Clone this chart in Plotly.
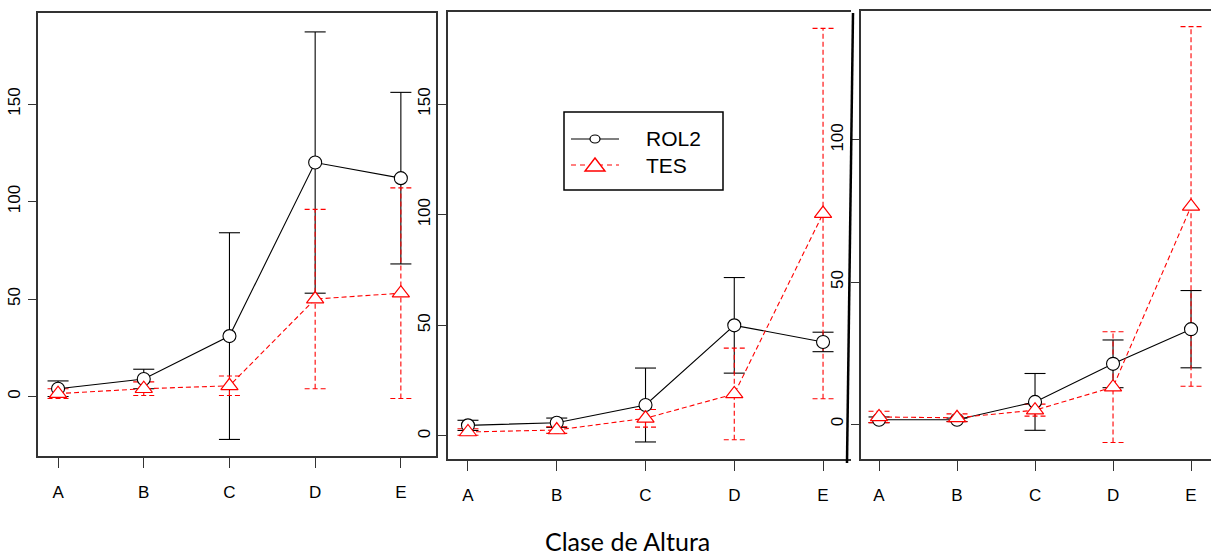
import plotly.graph_objects as go

W, H = 1211, 556

categories = ["A", "B", "C", "D", "E"]
y_ticks_1 = [0, 50, 100, 150]
y_ticks_2 = [0, 50, 100, 150]
y_ticks_3 = [0, 50, 100]

# Panel 1
rol2_mean_1 = [4, 9, 31, 120, 112]
rol2_sd_1 = [4, 5, 53, 67, 44]
tes_mean_1 = [1.5, 4, 5.5, 50, 53]
tes_sd_1 = [2.5, 3.5, 5, 46, 54]

# Panel 2
rol2_mean_2 = [4.8, 6, 14, 50, 42.5]
rol2_sd_2 = [2.3, 2.1, 16.7, 21.6, 4.4]
tes_mean_2 = [1.8, 2.7, 8, 19, 100.5]
tes_sd_2 = [1.5, 1.5, 4, 20.7, 83.7]

# Panel 3
rol2_mean_3 = [1.5, 1.5, 7.8, 21.2, 33.4]
rol2_sd_3 = [1, 0.6, 10, 8.4, 13.6]
tes_mean_3 = [2.5, 2.2, 4.9, 13, 76.6]
tes_sd_3 = [2, 1.4, 2.1, 19.5, 63.3]

legend_names = ["ROL2", "TES"]
x_title = "Clase de Altura"

panels = [
    dict(rm=rol2_mean_1, rs=rol2_sd_1, tm=tes_mean_1, ts=tes_sd_1, yt=y_ticks_1,
         xdom=[38 / W, 436 / W], ydom=[1 - 456 / H, 1 - 13 / H],
         xr=[-0.234, 4.41], yr=[-30.5, 196.7], ppu=85.5, box=True),
    dict(rm=rol2_mean_2, rs=rol2_sd_2, tm=tes_mean_2, ts=tes_sd_2, yt=y_ticks_2,
         xdom=[448 / W, 851 / W], ydom=[1 - 459 / H, 1 - 12 / H],
         xr=[-0.225, 4.315], yr=[-10.4, 191.6], ppu=88.75, box=False),
    dict(rm=rol2_mean_3, rs=rol2_sd_3, tm=tes_mean_3, ts=tes_sd_3, yt=y_ticks_3,
         xdom=[861 / W, 1.0], ydom=[1 - 459 / H, 1 - 11 / H],
         xr=[-0.231, 4.256], yr=[-12.3, 145.4], ppu=78.0, box=False),
]

tick_font = dict(family="Liberation Sans Narrow, Arial Narrow, Liberation Sans, sans-serif",
                 size=17, color="black")
axcol = "#333333"

fig = go.Figure()
xidx = list(range(len(categories)))


def errsegs(means, sds, half):
    xs, ys = [], []
    for i, (m, s) in enumerate(zip(means, sds)):
        lo, hi = m - s, m + s
        xs += [i, i, None, i - half, i + half, None, i - half, i + half, None]
        ys += [lo, hi, None, lo, lo, None, hi, hi, None]
    return xs, ys


layout_axes = {}
for k, p in enumerate(panels, start=1):
    xa = "x" if k == 1 else f"x{k}"
    ya = "y" if k == 1 else f"y{k}"
    half = 10.5 / p["ppu"]
    ex, ey = errsegs(p["rm"], p["rs"], half)
    fig.add_trace(go.Scatter(x=ex, y=ey, mode="lines", xaxis=xa, yaxis=ya,
                             line=dict(color="black", width=1.1), showlegend=False,
                             hoverinfo="skip"))
    ex, ey = errsegs(p["tm"], p["ts"], half)
    fig.add_trace(go.Scatter(x=ex, y=ey, mode="lines", xaxis=xa, yaxis=ya,
                             line=dict(color="red", width=1.1, dash="5px,3px"),
                             showlegend=False, hoverinfo="skip"))
    fig.add_trace(go.Scatter(x=xidx, y=p["rm"], mode="lines+markers", name=legend_names[0],
                             xaxis=xa, yaxis=ya, showlegend=False,
                             line=dict(color="black", width=1.1),
                             marker=dict(symbol="circle", size=13, color="white",
                                         line=dict(color="black", width=1.1))))
    fig.add_trace(go.Scatter(x=xidx, y=p["tm"], mode="lines+markers", name=legend_names[1],
                             xaxis=xa, yaxis=ya, showlegend=False,
                             line=dict(color="red", width=1.1, dash="5px,3px"),
                             marker=dict(symbol="triangle-up", size=15, color="white",
                                         line=dict(color="red", width=1.2))))
    xkey = "xaxis" if k == 1 else f"xaxis{k}"
    ykey = "yaxis" if k == 1 else f"yaxis{k}"
    layout_axes[xkey] = dict(domain=p["xdom"], range=p["xr"], anchor=ya,
                             tickvals=xidx, ticktext=categories, tickfont=tick_font,
                             showgrid=False, zeroline=False, showline=True,
                             linecolor=axcol, linewidth=1.5, mirror=True,
                             ticks="outside", ticklen=10, tickcolor=axcol, tickwidth=1,
                             ticklabelstandoff=10)
    layout_axes[ykey] = dict(domain=p["ydom"], range=p["yr"], anchor=xa,
                             tickvals=p["yt"], tickfont=tick_font, tickangle=-90,
                             showgrid=False, zeroline=False, showline=True,
                             linecolor=axcol, linewidth=1.5, mirror=p["box"],
                             ticks="outside", ticklen=8, tickcolor=axcol, tickwidth=1,
                             ticklabelstandoff=1)

shapes = []
shapes.append(dict(type="line", xref="paper", yref="paper",
                   x0=853 / W, y0=1 - 13 / H, x1=847 / W, y1=1 - 463 / H,
                   line=dict(color="black", width=2.5)))
lx0, lx1, ly0, ly1 = 564, 723, 112, 190
shapes.append(dict(type="rect", xref="paper", yref="paper",
                   x0=lx0 / W, x1=lx1 / W, y0=1 - ly1 / H, y1=1 - ly0 / H,
                   line=dict(color="black", width=1.5), fillcolor="white"))
r1, r2 = 139, 165
shapes.append(dict(type="line", xref="paper", yref="paper",
                   x0=571 / W, x1=619 / W, y0=1 - r1 / H, y1=1 - r1 / H,
                   line=dict(color="black", width=1.2)))
shapes.append(dict(type="circle", xref="paper", yref="paper",
                   x0=590 / W, x1=600 / W, y0=1 - (r1 + 4) / H, y1=1 - (r1 - 4) / H,
                   line=dict(color="black", width=1.2), fillcolor="white"))
shapes.append(dict(type="line", xref="paper", yref="paper",
                   x0=571 / W, x1=619 / W, y0=1 - r2 / H, y1=1 - r2 / H,
                   line=dict(color="red", width=1.2, dash="5px,4px")))
tri = [(585, r2 + 6), (605, r2 + 6), (595, r2 - 7)]
path = "M {} {} L {} {} L {} {} Z".format(*[v for (px, py) in tri for v in (px / W, 1 - py / H)])
shapes.append(dict(type="path", xref="paper", yref="paper", path=path,
                   line=dict(color="red", width=1.4), fillcolor="white"))

annotations = [
    dict(text="<br>".join(legend_names), x=645 / W, y=1 - (r1 + r2) / 2 / H,
         xref="paper", yref="paper", align="left",
         xanchor="left", yanchor="middle", showarrow=False, borderpad=0,
         font=dict(family="Liberation Sans, Arial, sans-serif", size=21, color="black")),
    dict(text=x_title, x=627 / W, y=1 - 541 / H, xref="paper", yref="paper",
         xanchor="center", yanchor="middle", showarrow=False,
         font=dict(family="Lato, Open Sans, sans-serif", size=25, color="black")),
]

fig.update_layout(width=W, height=H, margin=dict(l=0, r=0, t=0, b=0),
                  paper_bgcolor="white", plot_bgcolor="white", showlegend=False,
                  shapes=shapes, annotations=annotations, **layout_axes)

fig.write_html("out.html")
